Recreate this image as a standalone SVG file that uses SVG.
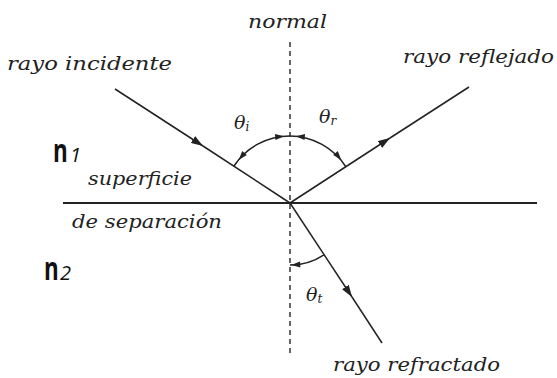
<svg xmlns="http://www.w3.org/2000/svg" width="557" height="378" viewBox="0 0 557 378">
<defs>
<style>
.ray{stroke:#222;stroke-width:1.5;fill:none}
.surf{stroke:#222;stroke-width:2.2;fill:none}
.norm{stroke:#333;stroke-width:1.5;stroke-dasharray:5,4;fill:none}
.arc{stroke:#222;stroke-width:1.5;fill:none}
.ah{fill:#222;stroke:none}
.lbl{font-family:'DejaVu Serif',serif;font-style:italic;font-size:18px;fill:#222}
.th{font-family:'DejaVu Serif',serif;font-style:italic;font-size:19px;fill:#222}
.sub{font-size:12px}
.nn{font-family:'Open Sans',sans-serif;font-weight:700;font-size:33px;fill:#111}
.ns{font-family:'Open Sans',sans-serif;font-style:italic;font-size:20px;fill:#111}
</style>
<marker id="arr" viewBox="0 0 12 8" refX="12" refY="4" markerWidth="12" markerHeight="8" markerUnits="userSpaceOnUse" orient="auto">
<path d="M0,0 L12,4 L0,8 Z" fill="#222"/>
</marker>
</defs>
<rect width="557" height="378" fill="#fff"/>
<g id="connectors">
<line class="norm" x1="290" y1="42" x2="290" y2="355"/>
<line class="surf" x1="63" y1="203" x2="537" y2="203"/>
<path class="ray" d="M115,89 L203,146" marker-end="url(#arr)"/>
<path class="ray" d="M203,146 L290,203"/>
<path class="ray" d="M290,203 L390,138" marker-end="url(#arr)"/>
<path class="ray" d="M390,138 L469,87"/>
<path class="ray" d="M290,203 L352,297" marker-end="url(#arr)"/>
<path class="ray" d="M352,297 L382,343"/>
</g>
<g id="angle-i">
<path class="arc" d="M234,166 A67,67 0 0,1 290,136"/>
<polygon class="ah" points="238.7,159.9 246.8,154.9 242.2,151.1"/>
<polygon class="ah" points="284.2,136.3 275.5,140.1 274.9,134.1"/>
<text class="th" x="234" y="129">θ<tspan class="sub" dy="2">i</tspan></text>
</g>
<g id="angle-r">
<path class="arc" d="M290,136 A67,67 0 0,1 346,167"/>
<polygon class="ah" points="295.8,136.3 305.1,134.1 304.5,140.1"/>
<polygon class="ah" points="341.3,159.9 337.8,151.1 333.2,154.9"/>
<text class="th" x="319" y="123">θ<tspan class="sub" dy="2">r</tspan></text>
</g>
<g id="angle-t">
<path class="arc" d="M290,265 A62,62 0 0,0 324,254.8"/>
<polygon class="ah" points="291.2,265 300.4,267.5 300,261.5"/>
<text class="th" x="306" y="301">θ<tspan class="sub" dy="2">t</tspan></text>
</g>
<g id="label-normal"><text class="lbl" x="248" y="28" textLength="79" lengthAdjust="spacingAndGlyphs">normal</text></g>
<g id="label-incidente"><text class="lbl" x="7" y="70" textLength="165" lengthAdjust="spacingAndGlyphs">rayo incidente</text></g>
<g id="label-reflejado"><text class="lbl" x="403" y="63" textLength="151" lengthAdjust="spacingAndGlyphs">rayo reflejado</text></g>
<g id="label-superficie"><text class="lbl" x="88" y="185" textLength="104" lengthAdjust="spacingAndGlyphs">superficie</text></g>
<g id="label-separacion"><text class="lbl" x="72" y="228" textLength="150" lengthAdjust="spacingAndGlyphs">de separación</text></g>
<g id="label-refractado"><text class="lbl" x="333" y="371" textLength="167" lengthAdjust="spacingAndGlyphs">rayo refractado</text></g>
<g id="n1"><text class="nn" transform="translate(53,162) scale(0.68,1)" x="0" y="0">n</text><text class="ns" x="70" y="162">1</text></g>
<g id="n2"><text class="nn" transform="translate(44,280) scale(0.68,1)" x="0" y="0">n</text><text class="ns" x="60" y="280">2</text></g>
</svg>
